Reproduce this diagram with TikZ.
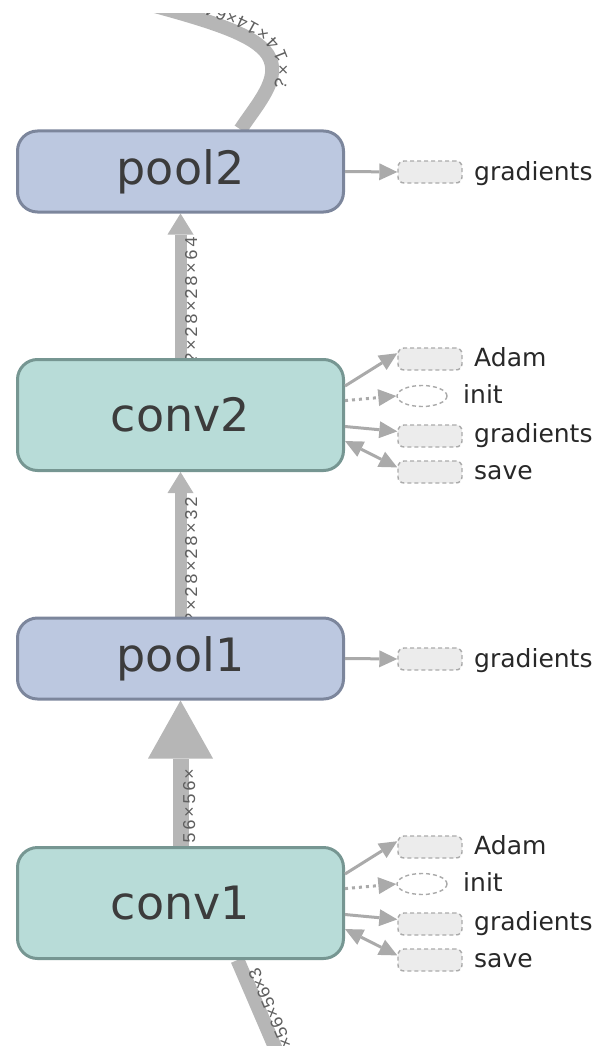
\documentclass[tikz,border=0pt]{standalone}
\usepackage{fontspec}
\setmainfont{DejaVu Sans}
\newfontfamily\edgefont[LetterSpace=12]{Liberation Mono}
\usetikzlibrary{arrows.meta,shapes.geometric,decorations.text}
\pgfdeclarelayer{bg}
\pgfsetlayers{bg,main}

\definecolor{poolfill}{RGB}{188,200,224}
\definecolor{pooldraw}{RGB}{124,134,156}
\definecolor{convfill}{RGB}{184,220,216}
\definecolor{convdraw}{RGB}{118,150,146}
\definecolor{edgegray}{RGB}{182,182,182}
\definecolor{sidegray}{RGB}{170,170,170}
\definecolor{boxfill}{RGB}{236,236,236}
\definecolor{labelgray}{RGB}{95,95,95}
\definecolor{nodetext}{RGB}{60,60,60}
\definecolor{auxtext}{RGB}{40,40,40}

\begin{document}
\begin{tikzpicture}[x=1pt,y=-1pt,
  opnode/.style={rectangle, rounded corners=20pt, line width=3pt,
    minimum width=326pt, inner sep=0pt, text=nodetext,
    font=\fontsize{46}{52}\selectfont},
  poolnode/.style={opnode, fill=poolfill, draw=pooldraw, minimum height=81pt},
  convnode/.style={opnode, fill=convfill, draw=convdraw, minimum height=111pt},
  auxbox/.style={rectangle, rounded corners=6pt, fill=boxfill, draw=sidegray,
    dash pattern=on 4pt off 3pt, line width=1.4pt,
    minimum width=64pt, minimum height=22pt, inner sep=0pt},
  auxinit/.style={ellipse, fill=white, draw=sidegray,
    dash pattern=on 4pt off 3pt, line width=1.4pt,
    minimum width=50pt, minimum height=21pt, inner sep=0pt},
  auxlabel/.style={anchor=base west, inner sep=0pt, text=auxtext,
    font=\fontsize{25}{30}\selectfont},
  tensor/.style={draw=edgegray, line width=12pt},
  tensortip/.style={-{Triangle[length=21pt,width=26pt,line width=0pt]}},
  sidearrow/.style={draw=sidegray, line width=3pt, -{Triangle[length=18pt,width=17pt,line width=0pt]}},
  bothways/.style={{Triangle[length=18pt,width=17pt,line width=0pt]}-{Triangle[length=18pt,width=17pt,line width=0pt]}},
  dotline/.style={dash pattern=on 3pt off 4pt},
  shapelabel/.style={text=labelgray, inner sep=0pt,
    font=\edgefont\fontsize{18}{20}\selectfont},
  alongpath/.style 2 args={postaction={decorate}, decoration={text along path,
    text color=labelgray, raise=-17pt, text align={#1},
    text={|\edgefont\fontsize{18}{20}\selectfont|#2}}}
]
\useasboundingbox (0,0) rectangle (607,1046);

% layer operations
\node[poolnode] (pool2) at (180.5,171.5) {pool2};
\node[convnode] (conv2) at (180.5,415) {conv2};
\node[poolnode] (pool1) at (180.5,658.5) {pool1};
\node[convnode] (conv1) at (180.5,903) {conv1};

% auxiliary nodes of pool2
\node[auxbox] (p2grad) at (430,172) {};
\node[auxlabel] (p2gradl) at (474,180) {gradients};

% auxiliary nodes of conv2
\node[auxbox]  (c2adam) at (430,359) {};
\node[auxlabel] (c2adaml) at (474,366) {Adam};
\node[auxinit] (c2init) at (422,396) {};
\node[auxlabel] (c2initl) at (463,403) {init};
\node[auxbox]  (c2grad) at (430,436) {};
\node[auxlabel] (c2gradl) at (474,442) {gradients};
\node[auxbox]  (c2save) at (430,472) {};
\node[auxlabel] (c2savel) at (474,479) {save};

% auxiliary nodes of pool1
\node[auxbox] (p1grad) at (430,659) {};
\node[auxlabel] (p1gradl) at (474,667) {gradients};

% auxiliary nodes of conv1
\node[auxbox]  (c1adam) at (430,847) {};
\node[auxlabel] (c1adaml) at (474,854) {Adam};
\node[auxinit] (c1init) at (422,884) {};
\node[auxlabel] (c1initl) at (463,891) {init};
\node[auxbox]  (c1grad) at (430,924) {};
\node[auxlabel] (c1gradl) at (474,930) {gradients};
\node[auxbox]  (c1save) at (430,960) {};
\node[auxlabel] (c1savel) at (474,967) {save};

% side connectors
\draw[sidearrow] (pool2.east) -- (p2grad.west);
\draw[sidearrow] (pool1.east) -- (p1grad.west);
\draw[sidearrow] (conv2.10) -- (c2adam.170);
\draw[sidearrow, dotline] (conv2.5) -- (c2init.west);
\draw[sidearrow] (conv2.-4) -- (c2grad.172);
\draw[sidearrow, bothways] (conv2.-9) -- (c2save.172);
\draw[sidearrow] (conv1.10) -- (c1adam.170);
\draw[sidearrow, dotline] (conv1.5) -- (c1init.west);
\draw[sidearrow] (conv1.-4) -- (c1grad.172);
\draw[sidearrow, bothways] (conv1.-9) -- (c1save.172);

% tensor edges, drawn beneath the operations
\begin{pgfonlayer}{bg}
  \clip (0,14) rectangle (607,1046);
  \draw[tensor, tensortip] (conv2.north) -- (pool2.south);
  \draw[tensor, tensortip] (pool1.north) -- (conv2.south);
  \draw[tensor, line width=16pt,
    -{Triangle[length=58pt,width=65pt,line width=0pt]}] (conv1.north) -- (pool1.south);
  \node[shapelabel, rotate=90, anchor=north west] (e3) at (185,364) {?×28×28×64};
  \node[shapelabel, rotate=90, anchor=north west] (e2) at (185,624) {?×28×28×32};
  \node[shapelabel, rotate=90, anchor=north west] (e1) at (183,844) {56×56×};
  \coordinate (src) at (300.7,1107);
  \coordinate (out) at (140,2);
  \draw[tensor, line width=14pt, alongpath={right, right indent=14pt}{?×56×56×3}]
    (src) -- (conv1.-45);
  \draw[tensor, line width=14pt, alongpath={left, left indent=52pt}{?×14×14×64}]
    (pool2.35) .. controls (258,103) and (282,78) .. (268,55)
    .. controls (255,35) and (215,22) .. (out);
\end{pgfonlayer}
\end{tikzpicture}
\end{document}
